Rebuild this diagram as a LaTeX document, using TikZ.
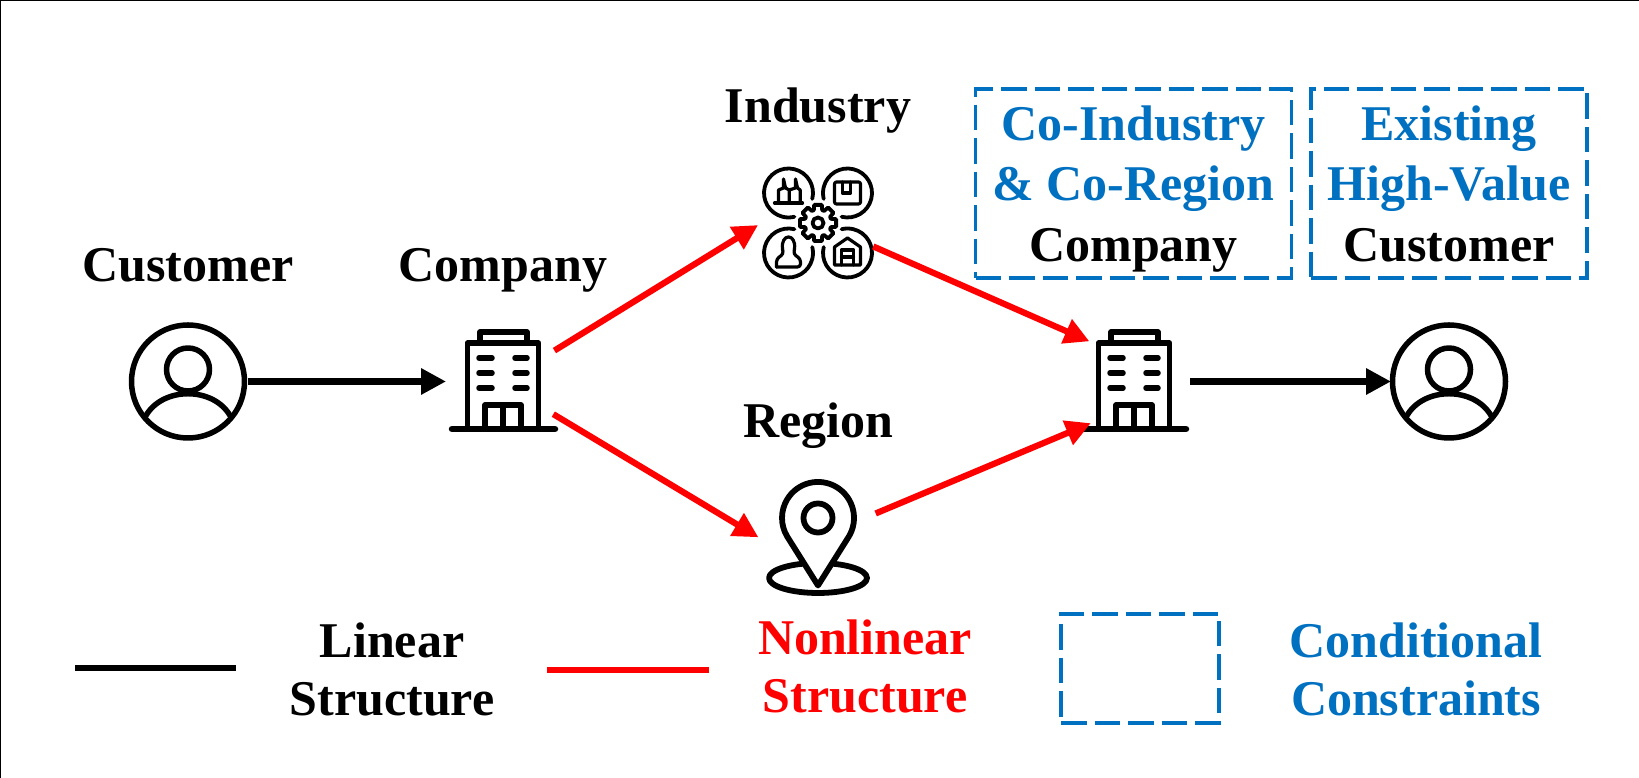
\documentclass[tikz,border=0pt]{standalone}
\usepackage{fontspec}
\setmainfont{Liberation Serif}
\usepackage{xcolor}
\usetikzlibrary{positioning}
\usetikzlibrary{arrows.meta}
\definecolor{condblue}{HTML}{0070C0}
\tikzset{
	iconnode/.style={circle,inner sep=0pt,outer sep=0pt,minimum size=120pt},
	iconline/.style={line cap=round,line join=round},
	sectorline/.style={iconline,line width=3.8pt},
	detailline/.style={iconline,line width=3.2pt},
	labeltext/.style={inner sep=0pt,text height=33pt,text depth=11pt,font=\fontsize{50}{60}\selectfont\bfseries},
	legendtext/.style={inner sep=0pt,align=center,font=\fontsize{50}{58}\selectfont\bfseries},
	dashbox/.style={draw=condblue,line width=3.6pt,dash pattern=on 25.5pt off 8pt},
	condbox/.style={dashbox,inner sep=0pt,align=center,font=\fontsize{50}{60.5}\selectfont\bfseries},
	linkline/.style={line width=6.2pt,-{Triangle[length=25pt,width=25pt]}},
	person/.pic={
		\draw[iconline,line width=5.5pt] (0,0) circle (56.5pt);
		\draw[iconline,line width=5.5pt] (0,12) circle (21.5pt);
		\draw[iconline,line width=5.5pt] (-42,-34) .. controls (-25,-5) and (25,-5) .. (42,-34);
	},
	building/.pic={
		\draw[iconline,line width=5.5pt] (-35.5,-49) -- (-35.5,37) -- (35.5,37) -- (35.5,-49);
		\draw[iconline,line width=5.5pt] (-23,37) -- (-23,48) -- (24,48) -- (24,37);
		\foreach \wy in {22,7,-8}{
			\draw[iconline,line width=5.5pt] (-24,\wy) -- (-11,\wy);
			\draw[iconline,line width=5.5pt] (12,\wy) -- (24,\wy);
		}
		\draw[iconline,line width=5.5pt] (-18,-49) -- (-18,-25) -- (18,-25) -- (18,-49);
		\draw[iconline,line width=5.5pt] (0,-49) -- (0,-25);
		\draw[iconline,line width=6.5pt] (-51,-49) -- (52,-49);
	},
	sector/.pic={
		\draw[sectorline] (0,0) \foreach \wa in {0,45,...,315}{
			(\wa-12:18.5) -- (\wa+12:18.5) -- (\wa+18:13.5) -- (\wa+27:13.5) -- (\wa+33:18.5)
		};
		\draw[sectorline] (0,0) circle (5.5pt);
		\foreach \gapa/\wx/\wy in {315/-29.5/30,225/29.5/30,45/-29.5/-30,135/29.5/-30}{
			\draw[sectorline] (\wx,\wy) ++(\gapa+31:24.5pt) arc[start angle=\gapa+31,end angle=\gapa+329,radius=24.5pt];
		}
		\begin{scope}[shift={(-29.5,30)}]
			\draw[detailline] (-14,-10) -- (14,-10);
			\draw[detailline] (-10,-10) -- (-10,3) -- (-5,5) -- (-5,14) -- (-3,5) -- (0.7,3) -- (0.7,-10);
			\draw[detailline] (0.7,3) -- (7,5) -- (7,14) -- (9,5) -- (11.7,3) -- (11.7,-10);
		\end{scope}
		\begin{scope}[shift={(29.5,30)}]
			\draw[detailline,rounded corners=2pt] (-13,-11) rectangle (13,11);
			\draw[detailline] (-5,11) -- (-5,0) -- (3,0) -- (3,11);
		\end{scope}
		\begin{scope}[shift={(-29.5,-30)}]
			\draw[detailline,rounded corners=3pt] (-12,-14) -- (12,-14) -- (12,-6) -- (5,-1) -- (6,4);
			\draw[detailline,rounded corners=3pt] (-12,-14) -- (-12,-6) -- (-5,-1) -- (-6,4);
			\draw[detailline] (-6,4) .. controls (-8,20) and (8,20) .. (6,4);
		\end{scope}
		\begin{scope}[shift={(29.5,-30)}]
			\draw[detailline] (-13,-12) -- (-13,6) -- (0,15) -- (13,6) -- (13,-12) -- cycle;
			\draw[detailline] (-6,-12) -- (-6,3) -- (6,3) -- (6,-12);
			\draw[detailline] (-6,-4) -- (6,-4);
		\end{scope}
	},
	regionpin/.pic={
		\draw[iconline,line width=5.8pt] (0,-48) ellipse (49pt and 15pt);
		\draw[iconline,line width=5.8pt,fill=white] (0,-55.5) -- (30.8,-6.6) arc[start angle=-31.2,end angle=211.2,radius=36pt] -- cycle;
		\draw[iconline,line width=5.8pt] (0,12) circle (14.5pt);
	}
}
\begin{document}
\begin{tikzpicture}[x=1pt,y=1pt]
	\useasboundingbox (0,0) rectangle (1639,778);
	\fill[white] (0,0) rectangle (1639,778);
	\draw[line width=2pt] (0,0) -- (0,778) -- (1639,778);

	\node[iconnode] (customer) at (188,396.5) {};
	\node[iconnode] (company) at (503,396.5) {};
	\node[iconnode] (industry) at (818,555) {};
	\node[iconnode] (region) at (818,248) {};
	\node[iconnode] (coCompany) at (1134,396.5) {};
	\node[iconnode] (highCustomer) at (1449,396.5) {};

	\pic at (customer) {person};
	\pic[yshift=1.5pt] at (company) {building};
	\pic at (industry) {sector};
	\pic at (region) {regionpin};
	\pic[yshift=1.5pt] at (coCompany) {building};
	\pic at (highCustomer) {person};

	\node[labeltext,above=29pt of customer] (customerText) {Customer};
	\node[labeltext,above=29pt of company] (companyText) {Company};
	\node[labeltext,above=29pt of industry] (industryText) {Industry};
	\node[labeltext,above=21pt of region] (regionText) {Region};

	\node[condbox,minimum width=316pt,minimum height=189.5pt] (coBox) at (1133.5,594.5)
		{\textcolor{condblue}{Co-Industry}\\\textcolor{condblue}{\& Co-Region}\\\smash{Company}};
	\node[condbox,minimum width=276pt,minimum height=189.5pt] (highBox) at (1449,594.5)
		{\textcolor{condblue}{Existing}\\\textcolor{condblue}{High-Value}\\Customer};

	\draw[linkline,shorten >=-3pt] (customer) -- (company);
	\draw[linkline,shorten <=-4pt,shorten >=-2pt] (coCompany) -- (highCustomer);
	\draw[linkline,red] (company.31) -- (industry.182);
	\draw[linkline,red] (company.-33) -- (region.187);
	\draw[linkline,red] (industry.-23) -- (coCompany.138);
	\draw[linkline,red] (region.16) -- (coCompany.224);

	\coordinate (linearFrom) at (75,110);
	\coordinate (linearTo) at (236,110);
	\coordinate (nonlinearFrom) at (547,108);
	\coordinate (nonlinearTo) at (709,108);
	\draw[line width=6.2pt] (linearFrom) -- (linearTo);
	\draw[line width=6.2pt,red] (nonlinearFrom) -- (nonlinearTo);
	\node[legendtext] (linearText) at (392,109) {Linear\\Structure};
	\node[legendtext,text=red] (nonlinearText) at (865,112) {Nonlinear\\Structure};
	\node[dashbox,minimum width=158pt,minimum height=109pt] (legendBox) at (1140,109.5) {};
	\node[legendtext,text=condblue] (condText) at (1416,108.5) {Conditional\\Constraints};
\end{tikzpicture}
\end{document}
